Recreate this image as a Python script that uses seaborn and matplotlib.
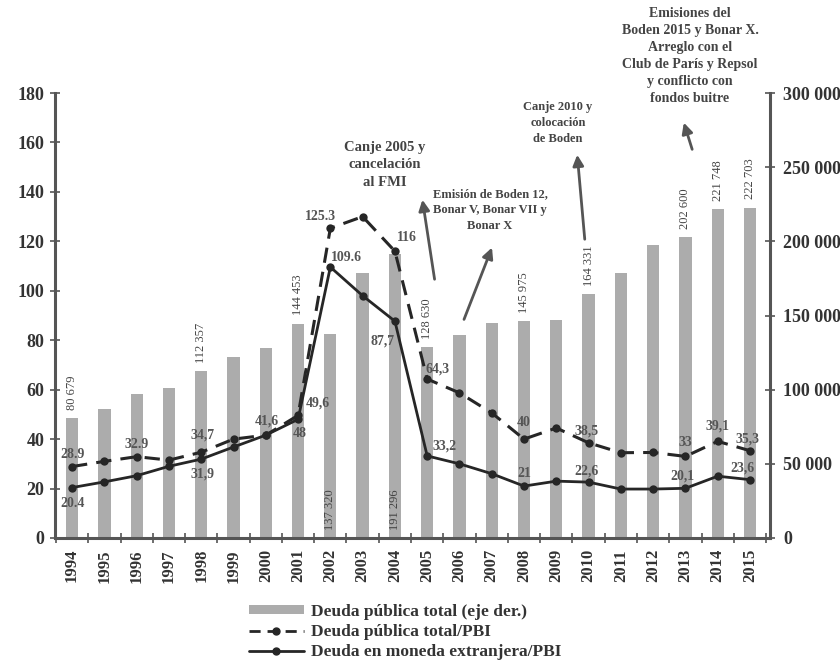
import matplotlib
matplotlib.use('Agg')
import matplotlib.pyplot as plt
import seaborn as sns
import pandas as pd
from matplotlib.patches import Patch
from matplotlib.lines import Line2D

# ---------------- data ----------------
years = [str(y) for y in range(1994, 2016)]
deuda_total = [80679, 87091, 97105, 101101, 112357, 121877, 128018, 144453,
               137320, 178821, 191296, 128630, 136725, 144729, 145975, 147119,
               164331, 178963, 197464, 202600, 221748, 222703]
deuda_pbi = [28.9, 31.0, 32.9, 31.5, 34.7, 40.0, 41.6, 49.6, 125.3, 130.0, 116.0,
             64.3, 58.7, 50.6, 40.0, 44.5, 38.5, 34.5, 34.6, 33.0, 39.1, 35.3]
deuda_me_pbi = [20.4, 22.7, 25.2, 29.0, 31.9, 36.8, 41.6, 48.0, 109.6, 98.0, 87.7,
                33.2, 30.0, 26.0, 21.0, 23.0, 22.6, 19.8, 19.8, 20.1, 25.0, 23.6]

bar_labels = {"1994": "80 679", "1998": "112 357", "2001": "144 453",
              "2005": "128 630", "2008": "145 975", "2010": "164 331",
              "2013": "202 600", "2014": "221 748", "2015": "222 703"}
bar_labels_inside = {"2002": "137 320", "2004": "191 296"}

left_ticks = [0, 20, 40, 60, 80, 100, 120, 140, 160, 180]
right_ticks = [0, 50000, 100000, 150000, 200000, 250000, 300000]
right_tick_labels = ["0", "50 000", "100 000", "150 000", "200 000", "250 000", "300 000"]

legend_labels = ["Deuda pública total (eje der.)", "Deuda pública total/PBI",
                 "Deuda en moneda extranjera/PBI"]

# value labels: (series, year, text, dx_px, dy_px)
pt_labels = [
    ("pbi", "1994", "28.9", 0, 12), ("me", "1994", "20.4", 0, -16),
    ("pbi", "1996", "32.9", 0, 12), ("me", "1998", "31,9", 1, -15),
    ("pbi", "1998", "34,7", 1, 17), ("pbi", "2000", "41,6", 1, 14),
    ("pbi", "2001", "49,6", 20, 12), ("me", "2001", "48", 2, -14),
    ("pbi", "2002", "125.3", -10, 12), ("me", "2002", "109.6", 16, 10),
    ("pbi", "2004", "116", 12, 14), ("me", "2004", "87,7", -12, -20),
    ("pbi", "2005", "64,3", 10, 10), ("me", "2005", "33,2", 17, 10),
    ("pbi", "2008", "40", 0, 17), ("me", "2008", "21", 0, 13),
    ("pbi", "2010", "38,5", -2, 12), ("me", "2010", "22,6", -2, 11),
    ("pbi", "2013", "33", 0, 14), ("me", "2013", "20,1", -3, 12),
    ("pbi", "2014", "39,1", 0, 15), ("pbi", "2015", "35,3", -2, 12),
    ("me", "2015", "23,6", -8, 12),
]

annotations = [
    ("Canje 2005 y\ncancelación\nal FMI", (385, 165), (435, 282), (422, 197), 10.5),
    ("Emisión de Boden 12,\nBonar V, Bonar VII y\nBonar X", (490, 210), (463, 322), (493, 245), 9),
    ("Canje 2010 y\ncolocación\nde Boden", (558, 123), (585, 242), (577, 152), 9),
    ("Emisiones del\nBoden 2015 y Bonar X.\nArreglo con el\nClub de París y Repsol\ny conflicto con\nfondos buitre",
     (690, 56), (693, 152), (683, 120), 10),
]

# ---------------- figure ----------------
sns.set_theme(style="white")
plt.rcParams['font.family'] = ['Liberation Serif', 'DejaVu Serif']
W, H = 840, 665
fig = plt.figure(figsize=(8.4, 6.65), dpi=100)
ax = fig.add_axes([55 / W, 1 - 538 / H, (770 - 55) / W, (538 - 93) / H])
ax2 = ax.twinx()

bar_color = '#acacac'
line_color = '#262626'

df = pd.DataFrame({"year": years, "total": deuda_total, "pbi": deuda_pbi,
                   "me": deuda_me_pbi, "pos": range(len(years))})

sns.barplot(data=df, x="year", y="total", ax=ax2, color=bar_color,
            width=0.38, saturation=1, linewidth=0)

sns.lineplot(data=df, x="pos", y="pbi", ax=ax, color=line_color, linewidth=2.2,
             linestyle=(0, (5, 3)), marker='o', markersize=6, markeredgewidth=0)
sns.lineplot(data=df, x="pos", y="me", ax=ax, color=line_color, linewidth=2.0,
             marker='o', markersize=6, markeredgewidth=0)

ax.set_zorder(ax2.get_zorder() + 1)
ax.patch.set_visible(False)

ax.set_xlim(-0.53, 21.62)
ax2.set_xlim(-0.53, 21.62)
ax.set_ylim(0, 180)
ax2.set_ylim(0, 300000)

for a in (ax, ax2):
    a.set_xlabel("")
    a.set_ylabel("")
    a.grid(False)
    for s in a.spines.values():
        s.set_visible(False)

ax.spines['left'].set_visible(True)
ax.spines['bottom'].set_visible(True)
ax2.spines['right'].set_visible(True)
for s in (ax.spines['left'], ax.spines['bottom'], ax2.spines['right']):
    s.set_color('#555555')
    s.set_linewidth(2.2)

ax.set_yticks(left_ticks)
ax.set_yticklabels([str(t) for t in left_ticks], fontsize=13, fontweight='bold', color='#333333')
ax.tick_params(axis='y', left=True, direction='inout', length=7, width=1.2, color='#555555', pad=4)
ax2.set_yticks(right_ticks)
ax2.set_yticklabels(right_tick_labels, fontsize=13, fontweight='bold', color='#333333')
ax2.tick_params(axis='y', right=True, direction='inout', length=7, width=1.2, color='#555555', pad=6)

ax.set_xticks(range(len(years)))
ax.set_xticklabels(years, rotation=90, fontsize=12, fontweight='bold', color='#333333')
ax.tick_params(axis='x', bottom=True, length=0, pad=8)
ax.set_xticks([i + 0.5 for i in range(-1, len(years))], minor=True)
ax.tick_params(axis='x', which='minor', bottom=True, direction='inout', length=7,
               width=1.2, color='#555555')
ax2.tick_params(axis='x', bottom=False, labelbottom=False)

# bar value labels
for yr, txt in bar_labels.items():
    i = years.index(yr)
    ax2.annotate(txt, (i, deuda_total[i]), xytext=(0, 6), textcoords='offset points',
                 rotation=90, ha='center', va='bottom', fontsize=9, color='#444444')
for yr, txt in bar_labels_inside.items():
    i = years.index(yr)
    ax2.annotate(txt, (i, 0), xytext=(0, 6), textcoords='offset points',
                 rotation=90, ha='center', va='bottom', fontsize=9, color='#444444')

# line value labels
series = {"pbi": deuda_pbi, "me": deuda_me_pbi}
for key, yr, txt, dx, dy in pt_labels:
    i = years.index(yr)
    ax.annotate(txt, (i, series[key][i]), xytext=(dx * 0.72, dy * 0.72),
                textcoords='offset points', ha='center', va='center',
                fontsize=10, fontweight='bold', color='#555555')

# event annotations with arrows
for txt, tpos, tail, head, fs in annotations:
    fig.text(tpos[0] / W, 1 - tpos[1] / H, txt, ha='center', va='center',
             fontsize=fs, fontweight='bold', color='#444444', linespacing=1.4)
    fig.add_artist(matplotlib.patches.FancyArrowPatch(
        (tail[0] / W, 1 - tail[1] / H), (head[0] / W, 1 - head[1] / H),
        transform=fig.transFigure, arrowstyle='-|>', mutation_scale=16,
        color='#555555', linewidth=2))

# legend
handles = [
    Patch(facecolor=bar_color, edgecolor='none'),
    Line2D([], [], color=line_color, linestyle=(0, (4, 2.5)), linewidth=2,
           marker='o', markersize=5),
    Line2D([], [], color=line_color, linewidth=2, marker='o', markersize=5),
]
fig.legend(handles, legend_labels, loc='center', bbox_to_anchor=(405 / W, 1 - 632 / H),
           frameon=False, prop={'size': 12.5, 'weight': 'bold'}, handlelength=3.2,
           handleheight=0.45, labelspacing=0.25, handletextpad=0.4, labelcolor='#333333')

fig.savefig('out.png', dpi=100, facecolor='white')
